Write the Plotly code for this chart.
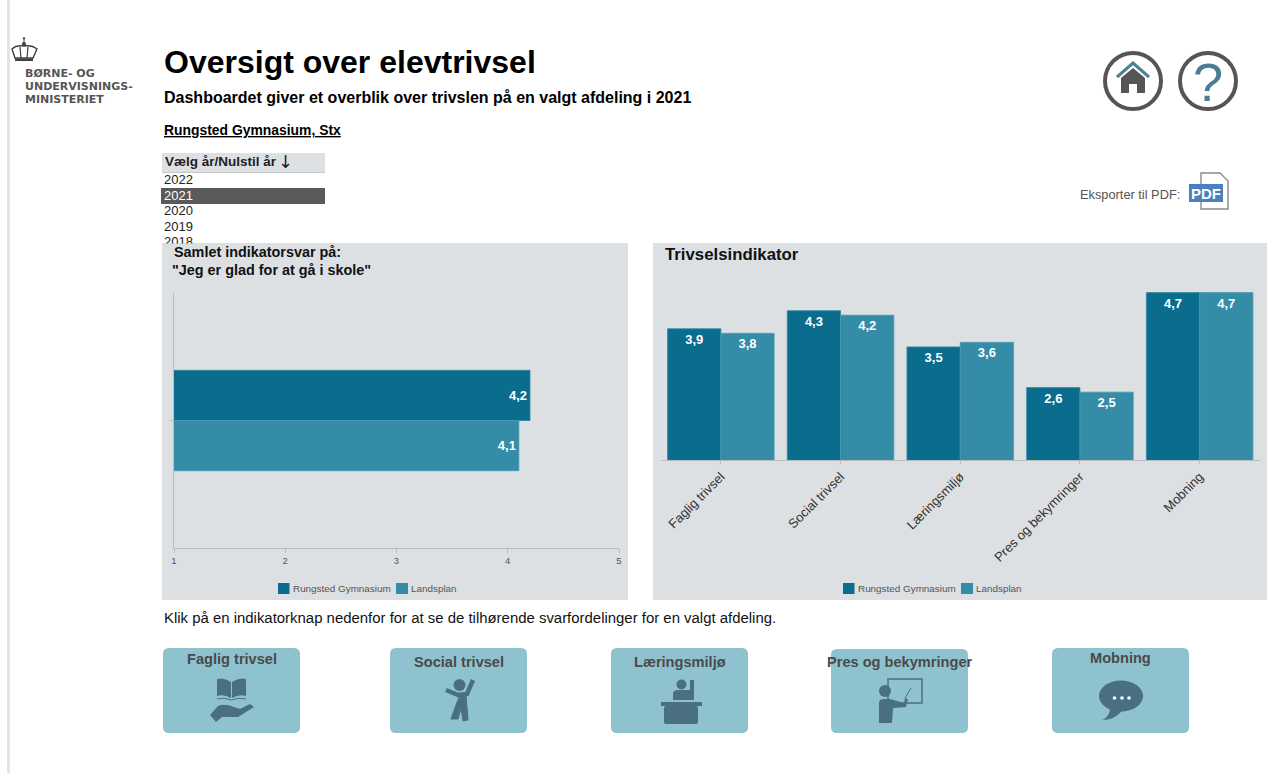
import re
import plotly.graph_objects as go

W, H = 1281, 773

# ---- data
series_names = ["Rungsted Gymnasium", "Landsplan"]
overall_label = ["Jeg er glad for at gå i skole"]
overall_school = [4.2]
overall_national = [4.1]
indicators = ["Faglig trivsel", "Social trivsel", "Læringsmiljø", "Pres og bekymringer", "Mobning"]
indicator_school = [3.9, 4.3, 3.5, 2.6, 4.7]
indicator_national = [3.8, 4.2, 3.6, 2.5, 4.7]
years = ["2022", "2021", "2020", "2019", "2018"]
x_ticks = [1, 2, 3, 4, 5]

# ---- style
C1, C2 = "#0b6d8e", "#348ca6"
PANEL = "#dde0e3"
BTN = "#8fc2cf"
ICON = "#4a6f80"
AXIS = "#b9bcc0"
FONT = "Liberation Sans"


def fx(x):
    return x / W


def fy(y):
    return 1 - y / H


def pth(s):
    """Layout path written in page pixels -> paper coordinates."""
    i = [0]

    def rep(m):
        v = float(m.group(0))
        r = fx(v) if i[0] % 2 == 0 else fy(v)
        i[0] += 1
        return f"{r:.5f}"

    return re.sub(r"-?\d+\.?\d*", rep, s)


shapes = []
annots = []


def path(s, fill=None, line=None, lw=0):
    shapes.append(dict(type="path", path=pth(s), xref="paper", yref="paper",
                       fillcolor=fill if fill else "rgba(0,0,0,0)",
                       line=dict(color=line if line else "rgba(0,0,0,0)", width=lw)))


def rect(x0, y0, x1, y1, fill, line=None, lw=0, layer="above"):
    shapes.append(dict(type="rect", xref="paper", yref="paper", x0=fx(x0), x1=fx(x1), y0=fy(y0), y1=fy(y1),
                       fillcolor=fill, layer=layer,
                       line=dict(color=line if line else "rgba(0,0,0,0)", width=lw)))


def circ(cx, cy, rx, ry=None, fill="rgba(0,0,0,0)", line=None, lw=0):
    ry = rx if ry is None else ry
    shapes.append(dict(type="circle", xref="paper", yref="paper", x0=fx(cx - rx), x1=fx(cx + rx),
                       y0=fy(cy - ry), y1=fy(cy + ry), fillcolor=fill,
                       line=dict(color=line if line else "rgba(0,0,0,0)", width=lw)))


def txt(x, y, s, size, color="#000000", anchor="left", family=FONT, **kw):
    if anchor == "left":
        x -= 1
    annots.append(dict(x=fx(x), y=fy(y), xref="paper", yref="paper", text=s, showarrow=False,
                       xanchor=anchor, yanchor="middle", borderpad=0,
                       font=dict(size=size, color=color, family=family), **kw))


def rrect(x0, y0, x1, y1, r, fill):
    path(f"M {x0+r} {y0} L {x1-r} {y0} Q {x1} {y0} {x1} {y0+r} L {x1} {y1-r} Q {x1} {y1} {x1-r} {y1} "
         f"L {x0+r} {y1} Q {x0} {y1} {x0} {y1-r} L {x0} {y0+r} Q {x0} {y0} {x0+r} {y0} Z", fill=fill)


# ---- page furniture
rect(7, 0, 10, H, "#e4e4e4")

# logo
LOGO = "#3f3f3f"
circ(24, 38.5, 1.2, fill=LOGO)
path("M 24 40 L 24 44", line=LOGO, lw=1)
circ(24, 44, 2, fill=LOGO)
path("M 15 58 L 12 49 Q 16 45 24 46 Q 32 45 37 49 L 33 58 Z", line=LOGO, lw=1.4)
path("M 20 47 L 21 58 M 28 47 L 27 58", line=LOGO, lw=1.2)
rect(15, 58.5, 33, 61, LOGO)
txt(25, 74, "<b>BØRNE- OG</b>", 11, "#555555", family="DejaVu Sans")
txt(25, 86.5, "<b>UNDERVISNINGS-</b>", 11, "#555555", family="DejaVu Sans")
txt(25, 99, "<b>MINISTERIET</b>", 11, "#555555", family="DejaVu Sans")

# headings
txt(164, 62, "<b>Oversigt over elevtrivsel</b>", 32)
txt(164, 97, "<b>Dashboardet giver et overblik over trivslen på en valgt afdeling i 2021</b>", 16)
txt(164, 130, "<b><u>Rungsted Gymnasium, Stx</u></b>", 13.9)

# year selector
rect(162, 153, 325, 172, "#dde1e4")
path("M 162 172.5 L 325 172.5", line="#c4c8cb", lw=1)
txt(165, 161, "<b>Vælg år/Nulstil år</b>", 13.5, "#222222")
txt(278, 161.5, "↓", 18, "#222222", family="DejaVu Sans")
rect(161, 188, 325, 204, "#5a5a5a")
for yr, yy in zip(years, [179.5, 195.5, 210.5, 226.5, 241.5]):
    txt(164, yy, yr, 13, "#ffffff" if yr == "2021" else "#222222")
annots.append(dict(x=fx(162), y=fy(243), xref="paper", yref="paper", text="&nbsp;", showarrow=False,
                   xanchor="left", yanchor="top", width=40, height=10, bgcolor=PANEL, borderpad=0))

# home / help
circ(1133, 81, 28, line="#555555", lw=4)
circ(1208, 81, 28, line="#555555", lw=4)
path("M 1121 78 L 1133 68 L 1145 78 L 1145 93 L 1137 93 L 1137 84 L 1129 84 L 1129 93 L 1121 93 Z", fill="#555555")
path("M 1117 77 L 1133 63 L 1149 77", line="#4a7f96", lw=3)
txt(1208, 82, "?", 54, "#4b7d92", anchor="center")

# export
txt(1080, 194, "Eksporter til PDF:", 12.8, "#555555")
path("M 1201 173 L 1220 173 L 1228 181 L 1228 209 L 1201 209 Z", fill="#ffffff", line="#8a8a8a", lw=1.4)
rect(1189, 184, 1223, 202, "#4a7fc1")
txt(1206, 193.5, "<b>PDF</b>", 15, "#ffffff", anchor="center")

# chart panels
rect(162, 243, 628, 600, PANEL, layer="below")
rect(653, 243, 1267, 600, PANEL, layer="below")
txt(174, 252, "<b>Samlet indikatorsvar på:</b>", 14.4, "#111111")
txt(172, 270, '<b>"Jeg er glad for at gå i skole"</b>', 14.4, "#111111")
txt(665, 255, "<b>Trivselsindikator</b>", 16.8, "#111111")

# legends
for lx in (278, 843):
    rect(lx, 583, lx + 11.5, 594, C1)
    txt(lx + 15, 588.5, series_names[0], 9.9, "#555555")
    rect(lx + 118, 583, lx + 130, 594, C2)
    txt(lx + 133, 588.5, series_names[1], 9.9, "#555555")

txt(164, 617, "Klik på en indikatorknap nedenfor for at se de tilhørende svarfordelinger for en valgt afdeling.", 14.93, "#111111")

# indicator buttons
buttons = [(163, 648, 300, 733, 659), (390, 648, 527, 733, 662), (611, 648, 748, 733, 662),
           (831, 649, 968, 733, 662), (1052, 648, 1189, 733, 658)]
for (x0, y0, x1, y1, ty), name in zip(buttons, indicators):
    rrect(x0, y0, x1, y1, 6, BTN)
    txt((x0 + x1) / 2, ty, f"<b>{name}</b>", 14.6, "#4a4a4a", anchor="center")

# book & hand
path("M 231 682 Q 224 677 217 679 L 217 696 Q 224 694 231 698 Z", fill=ICON)
path("M 232 682 Q 239 677 246 679 L 246 696 Q 239 694 232 698 Z", fill=ICON)
path("M 217 699 Q 224 697 231.5 700 Q 239 697 246 699", line=ICON, lw=1)
path("M 210 715 L 218 706 Q 224 703 234 707 L 240 709 L 250 704 L 254 707 L 238 717 L 222 717 L 216 722 Z", fill=ICON)
# jumping figure
circ(459.5, 685, 6, fill=ICON)
path("M 446 690 L 458 695 L 467 694 L 473 680", line=ICON, lw=4.5)
path("M 460 695 L 466 695 L 468 720 L 463 721 L 461 708 L 458 719 L 451 719 L 456 705 Z", fill=ICON, line=ICON, lw=1)
# person at desk
circ(681.5, 684.5, 5, fill=ICON)
path("M 673 700 L 673 693 Q 674 690 678 690 L 690 690 L 690 680 L 694 680 L 694 700 Z", fill=ICON)
rect(661, 702, 702, 706, ICON)
rrect(664, 706, 698, 724, 2, ICON)
# teacher
rect(888, 679, 922, 703, "rgba(0,0,0,0)", line=ICON, lw=1.5)
circ(885, 691, 6, fill=ICON)
path("M 879 723 L 879 703 Q 879 699 884 699 L 890 699 L 904 703 L 905 698 L 908 699 L 906 707 L 893 708 L 892 723 Z", fill=ICON)
path("M 905 698 L 911 688", line=ICON, lw=1)
# speech bubble
circ(1121, 696, 22, 15.5, fill=ICON)
path("M 1110 708 Q 1110 716 1102.5 720 Q 1114 720 1122 711 Z", fill=ICON)
for dot_x in (1114.5, 1122, 1129):
    circ(dot_x, 698, 1.8, fill="#ffffff")


# ---- charts (axis domains are page pixels)
fig = go.Figure()
vl = dict(size=13, color="#ffffff", family=FONT)
edge1 = dict(width=0.8, color="#2f86a2")
edge2 = dict(width=0.8, color="#4a9ab2")

fig.add_bar(y=overall_label, x=overall_school, name=series_names[0], orientation="h", marker=dict(color=C1, line=edge1),
            texttemplate="<b>%{x:.1f}</b>", textposition="inside", insidetextanchor="end", insidetextfont=vl,
            textangle=0, xaxis="x", yaxis="y", showlegend=False)
fig.add_bar(y=overall_label, x=overall_national, name=series_names[1], orientation="h", marker=dict(color=C2, line=edge2),
            texttemplate="<b>%{x:.1f}</b>", textposition="inside", insidetextanchor="end", insidetextfont=vl,
            textangle=0, xaxis="x", yaxis="y", showlegend=False)
fig.add_bar(x=indicators, y=indicator_school, name=series_names[0], marker=dict(color=C1, line=edge1),
            texttemplate="<b>%{y:.1f}</b>", textposition="inside", insidetextanchor="end", insidetextfont=vl,
            textangle=0, xaxis="x2", yaxis="y2", showlegend=False)
fig.add_bar(x=indicators, y=indicator_national, name=series_names[1], marker=dict(color=C2, line=edge2),
            texttemplate="<b>%{y:.1f}</b>", textposition="inside", insidetextanchor="end", insidetextfont=vl,
            textangle=0, xaxis="x2", yaxis="y2", showlegend=False)

fig.update_layout(
    width=W, height=H, margin=dict(l=0, r=0, t=0, b=0, autoexpand=False), autosize=False,
    paper_bgcolor="#ffffff", plot_bgcolor="rgba(0,0,0,0)",
    barmode="group", bargap=0.11, bargroupgap=0, separators=",.",
    font=dict(family=FONT), shapes=shapes, annotations=annots,
    xaxis=dict(domain=[fx(174), fx(619)], range=[1, 5], tickmode="array", tickvals=x_ticks,
               anchor="y", showgrid=False, zeroline=False, showline=True, linecolor=AXIS, linewidth=1,
               ticks="outside", ticklen=4, tickcolor=AXIS, tickfont=dict(size=9.5, color="#555555")),
    yaxis=dict(domain=[fy(548), fy(293)], range=[1.13, -1.13], anchor="x", showgrid=False, zeroline=False,
               showline=True, linecolor=AXIS, linewidth=1, ticks="outside", ticklen=3, tickcolor=AXIS,
               showticklabels=False, tickmode="array", tickvals=[0]),
    xaxis2=dict(domain=[fx(661), fx(1259.5)], anchor="y2", showgrid=False, zeroline=False, showline=True,
                linecolor=AXIS, linewidth=1, ticks="outside", ticklen=3, tickcolor=AXIS,
                tickangle=-45, tickfont=dict(size=13, color="#333333")),
    yaxis2=dict(domain=[fy(460), fy(279)], range=[1, 5], anchor="x2", visible=False),
)

fig.write_html("out.html", config=dict(displayModeBar=False),
               post_script="document.body.style.margin='0';document.body.style.overflow='hidden';")
